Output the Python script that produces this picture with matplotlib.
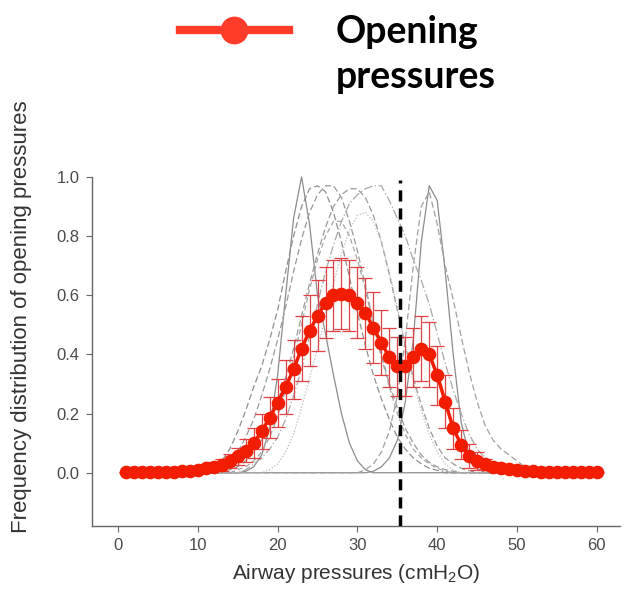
import matplotlib
matplotlib.use("Agg")
import matplotlib.pyplot as plt
from matplotlib.lines import Line2D
from matplotlib.font_manager import FontProperties

# Mean opening-pressure distribution (red) with SD bars
pressure = list(range(1, 61))
opening_mean = [
    0.002, 0.002, 0.002, 0.002, 0.002, 0.003, 0.003, 0.005, 0.007, 0.01,
    0.015, 0.02, 0.027, 0.04, 0.055, 0.075, 0.10, 0.14, 0.186, 0.236,
    0.29, 0.35, 0.42, 0.48, 0.53, 0.575, 0.60, 0.605, 0.60, 0.575,
    0.54, 0.49, 0.44, 0.39, 0.36, 0.36, 0.39, 0.42, 0.40, 0.33,
    0.24, 0.15, 0.095, 0.057, 0.04, 0.028, 0.02, 0.015, 0.011, 0.008,
    0.006, 0.005, 0.004, 0.003, 0.003, 0.002, 0.002, 0.002, 0.002, 0.002,
]
opening_sd = [
    0.002, 0.002, 0.002, 0.002, 0.003, 0.003, 0.004, 0.005, 0.007, 0.01,
    0.012, 0.015, 0.02, 0.025, 0.03, 0.04, 0.05, 0.06, 0.07, 0.08,
    0.09, 0.1, 0.11, 0.12, 0.12, 0.12, 0.12, 0.12, 0.12, 0.12,
    0.12, 0.12, 0.11, 0.1, 0.1, 0.1, 0.1, 0.11, 0.11, 0.1,
    0.09, 0.07, 0.05, 0.04, 0.03, 0.02, 0.015, 0.01, 0.008, 0.006,
    0.005, 0.004, 0.003, 0.003, 0.002, 0.002, 0.002, 0.002, 0.002, 0.002,
]

# Individual (normalised) distributions in grey, sampled at 10..52 cmH2O
grid_x = list(range(10, 53))
curve_a = [0, 0, 0, 0, 0, 0, 0.005, 0.02, 0.06, 0.15, 0.33, 0.6, 0.86, 1.0, 0.84,
           0.6, 0.47, 0.33, 0.2, 0.1, 0.04, 0.01,
           0, 0, 0, 0, 0, 0, 0, 0, 0, 0, 0, 0, 0, 0, 0, 0, 0, 0, 0, 0, 0]
curve_b = [0, 0, 0, 0, 0, 0, 0, 0, 0, 0, 0, 0, 0, 0, 0, 0, 0, 0, 0, 0, 0, 0,
           0.005, 0.02, 0.05, 0.11, 0.24, 0.45, 0.78, 0.97, 0.92, 0.68, 0.4,
           0.17, 0.06, 0.015, 0, 0, 0, 0, 0, 0, 0]
curve_c = [0.005, 0.01, 0.02, 0.04, 0.08, 0.14, 0.21, 0.29, 0.36, 0.45, 0.55,
           0.68, 0.8, 0.9, 0.96, 0.97, 0.95, 0.88, 0.78, 0.66, 0.54, 0.43,
           0.33, 0.25, 0.18, 0.12, 0.08, 0.05, 0.03, 0.015, 0.008,
           0, 0, 0, 0, 0, 0, 0, 0, 0, 0, 0, 0]
curve_d = [0, 0.005, 0.01, 0.02, 0.04, 0.07, 0.12, 0.18, 0.26, 0.35, 0.45, 0.56,
           0.68, 0.79, 0.88, 0.94, 0.97, 0.97, 0.93, 0.85, 0.75, 0.63, 0.51,
           0.4, 0.3, 0.22, 0.15, 0.1, 0.06, 0.035, 0.02, 0.01, 0.005,
           0, 0, 0, 0, 0, 0, 0, 0, 0, 0]
curve_e = [0, 0, 0, 0, 0, 0, 0.01, 0.03, 0.05, 0.08, 0.12, 0.18, 0.26, 0.35,
           0.46, 0.57, 0.68, 0.77, 0.85, 0.91, 0.94, 0.96, 0.97, 0.97, 0.92,
           0.86, 0.8, 0.72, 0.65, 0.57, 0.47, 0.37, 0.28, 0.2, 0.13, 0.08,
           0.05, 0.03, 0.015, 0.005, 0, 0, 0]
curve_f = [0, 0, 0, 0.005, 0.01, 0.02, 0.04, 0.07, 0.11, 0.17, 0.24, 0.32, 0.42,
           0.53, 0.64, 0.74, 0.83, 0.9, 0.94, 0.96, 0.96, 0.93, 0.87, 0.78,
           0.67, 0.55, 0.43, 0.32, 0.23, 0.15, 0.09, 0.05, 0.03, 0.015, 0.007,
           0, 0, 0, 0, 0, 0, 0, 0]
curve_g = [0, 0, 0, 0, 0, 0.01, 0.02, 0.04, 0.07, 0.12, 0.19, 0.28, 0.39, 0.5,
           0.62, 0.72, 0.8, 0.85, 0.85, 0.8, 0.72, 0.62, 0.5, 0.39, 0.29, 0.2,
           0.13, 0.08, 0.05, 0.03, 0.015, 0.005,
           0, 0, 0, 0, 0, 0, 0, 0, 0, 0, 0]
curve_h = [0, 0, 0, 0, 0, 0, 0, 0, 0, 0, 0, 0, 0, 0, 0, 0, 0, 0, 0, 0, 0,
           0.01, 0.03, 0.07, 0.14, 0.26, 0.45, 0.7, 0.9, 0.95, 0.84, 0.7,
           0.585, 0.46, 0.34, 0.24, 0.16, 0.11, 0.08, 0.06, 0.04, 0.02, 0.01]
curve_i = [0, 0, 0, 0, 0, 0, 0, 0, 0, 0.01, 0.03, 0.07, 0.13, 0.22, 0.32, 0.42,
           0.53, 0.64, 0.74, 0.82, 0.87, 0.88, 0.85, 0.78, 0.68, 0.56, 0.43,
           0.31, 0.21, 0.13, 0.07, 0.03, 0.01,
           0, 0, 0, 0, 0, 0, 0, 0, 0, 0]

threshold = 35.3  # dashed vertical line (cmH2O)

x_ticks = [0, 10, 20, 30, 40, 50, 60]
y_ticks = [0.0, 0.2, 0.4, 0.6, 0.8, 1.0]

grey_curves = [
    (curve_a, "-", "#8c8c8c"),
    (curve_b, "-", "#8c8c8c"),
    (curve_c, (0, (5, 2.5)), "#8f8f8f"),
    (curve_d, (0, (5, 2.5)), "#999999"),
    (curve_f, (0, (5, 2.5)), "#9a9a9a"),
    (curve_g, (0, (4, 2.5)), "#a5a5a5"),
    (curve_e, (0, (7, 2, 1, 2)), "#a8a8a8"),
    (curve_h, (0, (5, 2.5)), "#a0a0a0"),
    (curve_i, (0, (1, 1.5)), "#b8b8b8"),
]
for c, _, _ in grey_curves:
    assert len(c) == len(grid_x)

axis_font = "Liberation Sans"
plt.rcParams["mathtext.fontset"] = "custom"
plt.rcParams["mathtext.rm"] = axis_font

fig = plt.figure(figsize=(6.24, 5.89), dpi=100)
ax = fig.add_axes([92 / 624, 63 / 589, 528 / 624, 355 / 589])

for values, ls, col in grey_curves:
    ax.plot(grid_x, values, linestyle=ls, color=col, lw=0.9, zorder=1)

ax.axvline(threshold, ymin=0, ymax=0.975, color="black", lw=2.5,
           linestyle=(0, (3.2, 2)), zorder=5)

ax.errorbar(pressure, opening_mean, yerr=opening_sd, fmt="none",
            ecolor="#e04040", elinewidth=0.9, capsize=4.8, capthick=0.9,
            zorder=3)
ax.plot(pressure, opening_mean, color="#f21c00", lw=2.5, marker="o",
        ms=8.8, zorder=4)

ax.set_xlim(-3.26, 62.9)
ax.set_ylim(-0.18, 1.02)
ax.set_xticks(x_ticks)
ax.set_yticks(y_ticks)
ax.set_yticklabels([f"{v:.1f}" for v in y_ticks])

for side in ["top", "right"]:
    ax.spines[side].set_visible(False)
for side in ["left", "bottom"]:
    ax.spines[side].set_color("#666666")
    ax.spines[side].set_linewidth(1.0)
ax.spines["left"].set_bounds(-0.18, 1.0)

ax.tick_params(direction="out", length=4, width=0.8, color="#666666",
               labelcolor="#4a4a4a", labelsize=12, pad=5)
for lab in ax.get_xticklabels() + ax.get_yticklabels():
    lab.set_family(axis_font)

ax.set_xlabel("Airway pressures (cmH$_2$O)", fontsize=15, color="#333333",
              family=axis_font, labelpad=6)
ax.set_ylabel("Frequency distribution of opening pressures", fontsize=16,
              color="#333333", family=axis_font)
ax.yaxis.set_label_coords(-0.113, 0.589)

# Legend at the top of the figure
handle = Line2D([], [], color="#ff3b2a", lw=6, marker="o", ms=19)
blank = Line2D([], [], linestyle="none")
fig.legend(handles=[handle, blank], labels=["Opening", "pressures"],
           loc="upper left", bbox_to_anchor=(180 / 624, 1 - 15 / 589),
           frameon=False,
           prop=FontProperties(family="Lato", weight="bold", size=27),
           handlelength=2.9, handletextpad=1.25, borderpad=0,
           borderaxespad=0, labelspacing=0.28)

fig.savefig("out.png", dpi=100)
